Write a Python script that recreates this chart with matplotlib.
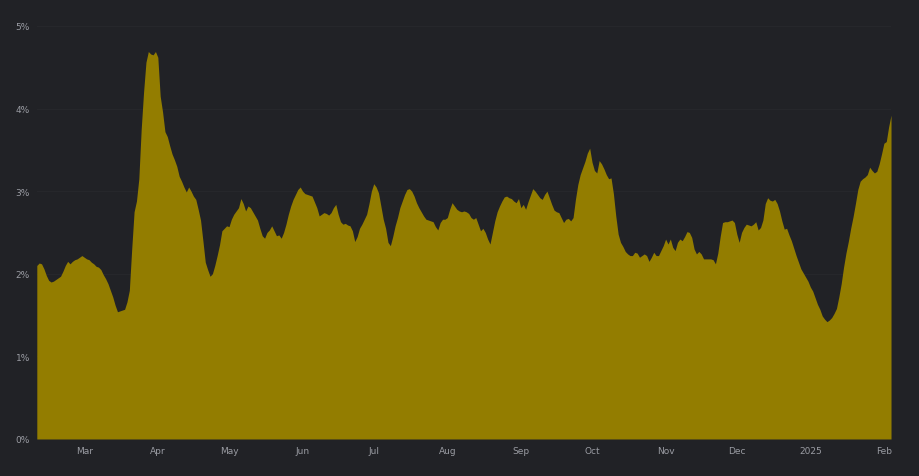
import numpy as np
import pandas as pd
import matplotlib
matplotlib.use("Agg")
import matplotlib.pyplot as plt
import matplotlib.dates as mdates
from matplotlib.ticker import FuncFormatter

# daily values in %, starting 2024-02-10
start_date = "2024-02-10"

rate_feb = [2.10, 2.13, 2.12, 2.06, 1.98, 1.92, 1.90, 1.91, 1.93, 1.95,
            1.97, 2.03, 2.10, 2.15, 2.12, 2.15, 2.17, 2.18, 2.20, 2.22]
rate_mar = [2.20, 2.18, 2.17, 2.14, 2.12, 2.09, 2.08, 2.05, 1.99, 1.94,
            1.88, 1.80, 1.72, 1.62, 1.54, 1.55, 1.56, 1.57, 1.66, 1.80,
            2.30, 2.75, 2.88, 3.15, 3.75, 4.20, 4.56, 4.69, 4.66, 4.65, 4.69]
rate_apr = [4.62, 4.15, 3.96, 3.72, 3.66, 3.55, 3.45, 3.38, 3.30, 3.18,
            3.12, 3.05, 2.99, 3.05, 3.00, 2.94, 2.90, 2.78, 2.65, 2.40,
            2.14, 2.05, 1.97, 2.00, 2.10, 2.22, 2.35, 2.52, 2.55, 2.58]
rate_may = [2.57, 2.66, 2.72, 2.76, 2.80, 2.91, 2.85, 2.76, 2.82, 2.80,
            2.75, 2.70, 2.65, 2.55, 2.46, 2.43, 2.50, 2.53, 2.58, 2.52,
            2.46, 2.47, 2.43, 2.50, 2.60, 2.72, 2.82, 2.90, 2.96, 3.02]
rate_jun = [3.05, 3.00, 2.97, 2.96, 2.95, 2.94, 2.87, 2.80, 2.70, 2.72,
            2.74, 2.73, 2.71, 2.74, 2.80, 2.84, 2.72, 2.63, 2.60, 2.61,
            2.59, 2.58, 2.52, 2.39, 2.45, 2.55, 2.60, 2.66, 2.72, 2.85]
rate_jul = [3.00, 3.09, 3.05, 2.98, 2.82, 2.66, 2.55, 2.38, 2.34, 2.45,
            2.58, 2.68, 2.80, 2.88, 2.96, 3.02, 3.03, 3.00, 2.94, 2.86,
            2.80, 2.75, 2.70, 2.66, 2.65, 2.64, 2.63, 2.57, 2.53, 2.62]
rate_aug = [2.66, 2.66, 2.68, 2.78, 2.86, 2.82, 2.78, 2.76, 2.75, 2.76,
            2.75, 2.73, 2.68, 2.66, 2.68, 2.60, 2.52, 2.55, 2.50, 2.42,
            2.36, 2.50, 2.64, 2.75, 2.82, 2.88, 2.93, 2.94, 2.92, 2.91, 2.88]
rate_sep = [2.86, 2.91, 2.80, 2.84, 2.78, 2.87, 2.95, 3.03, 3.00, 2.96,
            2.92, 2.90, 2.96, 3.00, 2.92, 2.84, 2.77, 2.75, 2.74, 2.68,
            2.62, 2.66, 2.67, 2.64, 2.68, 2.90, 3.08, 3.20, 3.28]
rate_oct = [3.36, 3.46, 3.52, 3.35, 3.25, 3.22, 3.37, 3.33, 3.27, 3.20,
            3.15, 3.16, 2.97, 2.70, 2.48, 2.38, 2.33, 2.27, 2.24, 2.22,
            2.22, 2.26, 2.25, 2.20, 2.22, 2.24, 2.22, 2.15, 2.20, 2.26, 2.22]
rate_nov = [2.22, 2.28, 2.34, 2.42, 2.36, 2.42, 2.32, 2.28, 2.38, 2.42,
            2.40, 2.45, 2.51, 2.50, 2.44, 2.30, 2.24, 2.27, 2.24, 2.18,
            2.18, 2.18, 2.18, 2.17, 2.12,
            2.25, 2.45, 2.62, 2.63, 2.63, 2.64, 2.65, 2.62]
rate_dec = [2.48, 2.38, 2.50, 2.56, 2.60, 2.59, 2.58, 2.60, 2.63, 2.53,
            2.56, 2.65, 2.85, 2.92, 2.89, 2.88, 2.90, 2.85, 2.76, 2.64,
            2.54, 2.55, 2.47, 2.40, 2.31, 2.22, 2.14, 2.06, 2.01, 1.96, 1.91]
rate_jan = [1.84, 1.79, 1.71, 1.63, 1.57, 1.49, 1.45, 1.42, 1.44, 1.47,
            1.52, 1.58, 1.72, 1.88, 2.08, 2.25, 2.39, 2.55, 2.69, 2.85,
            3.02, 3.12, 3.15, 3.17, 3.20, 3.29, 3.25, 3.22, 3.24, 3.33, 3.45]
rate_feb25 = [3.58, 3.60, 3.78, 3.92]

values = (rate_feb + rate_mar + rate_apr + rate_may + rate_jun + rate_jul
          + rate_aug + rate_sep + rate_oct + rate_nov + rate_dec + rate_jan
          + rate_feb25)
dates = pd.date_range(start_date, periods=len(values), freq="D")

bg = "#212226"
fill_col = "#937d00"
txt_col = "#9a9ca3"

fig = plt.figure(figsize=(9.2, 4.77), dpi=100, facecolor=bg)
ax = fig.add_axes([0.040, 0.0776, 0.9285, 0.866])
ax.set_facecolor(bg)

ax.fill_between(dates, values, 0, color=fill_col, linewidth=0, zorder=2)

ax.set_ylim(0, 5)
ax.set_xlim(dates[0], dates[-1])
ax.set_yticks([0, 1, 2, 3, 4, 5])
ax.yaxis.set_major_formatter(FuncFormatter(lambda v, p: f"{v:.0f}%"))
ax.grid(axis="y", color="#26272b", linewidth=0.8, zorder=0)

ax.xaxis.set_major_locator(mdates.MonthLocator())
ax.xaxis.set_major_formatter(FuncFormatter(
    lambda v, p: mdates.num2date(v).strftime("%Y") if mdates.num2date(v).month == 1
    else mdates.num2date(v).strftime("%b")))

ax.tick_params(axis="both", length=0, colors=txt_col, labelsize=6.5)
ax.tick_params(axis="x", pad=5)
ax.tick_params(axis="y", pad=5)
for s in ax.spines.values():
    s.set_visible(False)

fig.savefig("out.png", dpi=100, facecolor=bg)
